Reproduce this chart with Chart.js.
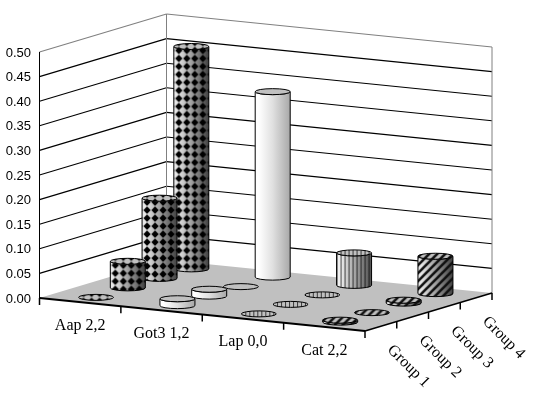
<!DOCTYPE html>
<html>
<head>
<meta charset="utf-8">
<title>Chart</title>
<script src="https://cdn.jsdelivr.net/npm/chart.js@4"></script>
<style>
  html, body { margin: 0; padding: 0; background: #fff; }
  canvas { display: block; }
</style>
</head>
<body>
<canvas id="chart" width="533" height="394"></canvas>
<script>
// ---------------- Data ----------------
const categories = ["Aap 2,2", "Got3 1,2", "Lap 0,0", "Cat 2,2"];
const groups = ["Group 1", "Group 2", "Group 3", "Group 4"];
const group1Values = [0, 0.014, 0, 0.004];
const group2Values = [0.054, 0.014, 0, 0];
const group3Values = [0.163, 0, 0, 0.006];
const group4Values = [0.452, 0.377, 0.066, 0.076];

// ---------------- Projection ----------------
const RISE = 33;      // floor drop along the category axis
const DEPTH_X = 127;  // depth axis going back
const DEPTH_Y = -38;
const RX = 17.5;
const RY = 3;
const FLOOR = "#c0c0c0";

function project(chart, xDec, zDec, value) {
  const { x, y } = chart.scales;
  return {
    x: x.getPixelForDecimal(xDec) + zDec * DEPTH_X,
    y: y.getPixelForValue(value) + xDec * RISE + zDec * DEPTH_Y,
  };
}

function decimalOf(scale, index) {
  return scale.getDecimalForPixel(scale.getPixelForValue(index));
}

function line(ctx, a, b, color, width) {
  ctx.beginPath();
  ctx.moveTo(a.x, a.y);
  ctx.lineTo(b.x, b.y);
  ctx.strokeStyle = color;
  ctx.lineWidth = width;
  ctx.stroke();
}

// ---------------- Patterns ----------------
function tile(w, h, paint) {
  const c = document.createElement("canvas");
  c.width = w;
  c.height = h;
  paint(c.getContext("2d"));
  return c;
}

const diamondTile = tile(8, 8, g => {
  g.fillStyle = "#000";
  g.beginPath();
  g.moveTo(4, 0.3);
  g.lineTo(7.7, 4);
  g.lineTo(4, 7.7);
  g.lineTo(0.3, 4);
  g.closePath();
  g.fill();
});

const stripeTile = tile(4, 4, g => {
  g.fillStyle = "rgba(0,0,0,.7)";
  g.fillRect(3, 0, 1, 4);
});

const hatchTile = tile(8, 8, g => {
  g.strokeStyle = "#111";
  g.lineWidth = 2.6;
  [[-2, 2, 2, -2], [0, 8, 8, 0], [6, 10, 10, 6]].forEach(s => {
    g.beginPath();
    g.moveTo(s[0], s[1]);
    g.lineTo(s[2], s[3]);
    g.stroke();
  });
});

// one look per category, like the series fills of the original
const categoryTiles = [diamondTile, null, stripeTile, hatchTile];
const categoryShades = [
  ["#e8e8e8", "#a0a0a0", "#404040"],
  ["#ffffff", "#e0e0e0", "#a8a8a8"],
  ["#f0f0f0", "#a8a8a8", "#505050"],
  ["#e8e8e8", "#a0a0a0", "#404040"],
];

// ---------------- Cylinders ----------------
function drawCylinder(ctx, base, top, catIndex) {
  const left = base.x - RX;
  const right = base.x + RX;
  const shades = categoryShades[catIndex];
  const tileCanvas = categoryTiles[catIndex];
  const pattern = tileCanvas ? ctx.createPattern(tileCanvas, "repeat") : null;
  if (pattern) pattern.setTransform(new DOMMatrix().translate(left + 1, top.y));

  const bodyPath = () => {
    ctx.beginPath();
    ctx.moveTo(left, top.y);
    ctx.lineTo(left, base.y);
    ctx.ellipse(base.x, base.y, RX, RY, 0, Math.PI, 0, true);
    ctx.lineTo(right, top.y);
    ctx.ellipse(top.x, top.y, RX, RY, 0, 0, Math.PI, false);
    ctx.closePath();
  };
  const topPath = () => {
    ctx.beginPath();
    ctx.ellipse(top.x, top.y, RX, RY, 0, 0, Math.PI * 2);
    ctx.closePath();
  };

  if (base.y - top.y > 0.5) {
    const shade = ctx.createLinearGradient(left, 0, right, 0);
    shade.addColorStop(0, shades[0]);
    shade.addColorStop(0.1, shades[0]);
    shade.addColorStop(0.5, shades[1]);
    shade.addColorStop(1, shades[2]);
    bodyPath();
    ctx.fillStyle = shade;
    ctx.fill();
    if (pattern) {
      ctx.fillStyle = pattern;
      ctx.fill();
    }
    ctx.strokeStyle = "#000";
    ctx.lineWidth = 1;
    ctx.stroke();
  }

  topPath();
  ctx.fillStyle = FLOOR;
  ctx.fill();
  if (pattern) {
    ctx.fillStyle = pattern;
    ctx.fill();
  }
  ctx.strokeStyle = "#000";
  ctx.lineWidth = 1;
  ctx.stroke();
}

// ---------------- Box + marks plugin ----------------
const box3d = {
  id: "box3d",
  beforeDatasetsDraw(chart) {
    const { ctx } = chart;
    const yScale = chart.scales.y;
    ctx.save();

    // walls
    yScale.ticks.forEach(t => {
      const isTop = t.value === yScale.max;
      const col = isTop ? "#808080" : "#000";
      const front = project(chart, 0, 0, t.value);
      const corner = project(chart, 0, 1, t.value);
      const end = project(chart, 1, 1, t.value);
      if (t.value > 0) {
        line(ctx, front, corner, col, 1.1);
        line(ctx, corner, end, col, 1.1);
      }
    });
    line(ctx, project(chart, 0, 1, 0), project(chart, 0, 1, yScale.max), "#808080", 1);
    line(ctx, project(chart, 1, 1, 0), project(chart, 1, 1, yScale.max), "#808080", 1);

    // floor
    const corners = [[0, 0], [1, 0], [1, 1], [0, 1]].map(c => project(chart, c[0], c[1], 0));
    ctx.beginPath();
    corners.forEach((p, i) => (i ? ctx.lineTo(p.x, p.y) : ctx.moveTo(p.x, p.y)));
    ctx.closePath();
    ctx.fillStyle = FLOOR;
    ctx.fill();

    ctx.restore();
  },
  afterDatasetsDraw(chart) {
    const { ctx } = chart;
    const { x: xScale, y: yScale, z: zScale } = chart.scales;
    ctx.save();

    // cylinders, back row first
    for (let j = groups.length - 1; j >= 0; j--) {
      const zDec = decimalOf(zScale, j);
      chart.data.datasets[j].data.forEach((v, i) => {
        const xDec = decimalOf(xScale, i);
        drawCylinder(ctx, project(chart, xDec, zDec, 0), project(chart, xDec, zDec, v), i);
      });
    }

    // axes on top of the floor
    line(ctx, project(chart, 0, 0, 0), project(chart, 0, 0, yScale.max), "#000", 1);
    line(ctx, project(chart, 0, 0, 0), project(chart, 1, 0, 0), "#000", 2);
    line(ctx, project(chart, 1, 0, 0), project(chart, 1, 1, 0), "#000", 1.5);
    for (let i = 0; i <= categories.length; i++) {
      const p = project(chart, i / categories.length, 0, 0);
      line(ctx, p, { x: p.x, y: p.y + 7 }, "#000", 1.5);
    }
    for (let j = 1; j <= groups.length; j++) {
      const p = project(chart, 1, j / groups.length, 0);
      line(ctx, p, { x: p.x, y: p.y + 7 }, "#000", 1.5);
    }

    // value labels, nudged down onto their gridline starts
    ctx.fillStyle = "#000";
    ctx.textBaseline = "middle";
    ctx.textAlign = "right";
    ctx.font = '13px "Liberation Sans"';
    yScale.ticks.forEach(t => {
      ctx.fillText(t.value.toFixed(2), 31, yScale.getPixelForValue(t.value) + 1);
    });

    // labels follow the slanted floor edges
    ctx.textAlign = "center";
    ctx.font = '16px "Liberation Serif"';
    categories.forEach((c, i) => {
      const p = project(chart, decimalOf(xScale, i), 0, 0);
      ctx.fillText(c, p.x, p.y + 23.5);
    });
    groups.forEach((g, j) => {
      const p = project(chart, 1, decimalOf(zScale, j), 0);
      ctx.save();
      ctx.translate(p.x + 27.5, p.y + 40);
      ctx.rotate(Math.PI / 4);
      ctx.fillText(g, 0, 0);
      ctx.restore();
    });

    ctx.restore();
  },
};

// ---------------- Chart ----------------
new Chart(document.getElementById("chart"), {
  type: "bar",
  data: {
    labels: categories,
    datasets: [
      { label: groups[0], data: group1Values },
      { label: groups[1], data: group2Values },
      { label: groups[2], data: group3Values },
      { label: groups[3], data: group4Values },
    ].map(d => ({ ...d, backgroundColor: "transparent", borderWidth: 0 })),
  },
  options: {
    responsive: false,
    animation: false,
    layout: { padding: { top: 52, right: 168, bottom: 96, left: 0 } },
    plugins: { legend: { display: false }, tooltip: { enabled: false } },
    scales: {
      x: {
        grid: { display: false, drawTicks: false },
        border: { display: false },
        ticks: { display: false },
        afterFit: s => { s.height = 0; },
      },
      z: {
        type: "category",
        axis: "x",
        position: "bottom",
        labels: groups,
        offset: true,
        display: false,
      },
      y: {
        min: 0,
        max: 0.5,
        grid: { display: false, drawTicks: false },
        border: { display: false },
        ticks: { display: false, stepSize: 0.05 },
        afterFit: s => { s.width = 39.5; },
      },
    },
  },
  plugins: [box3d],
});
</script>
</body>
</html>
